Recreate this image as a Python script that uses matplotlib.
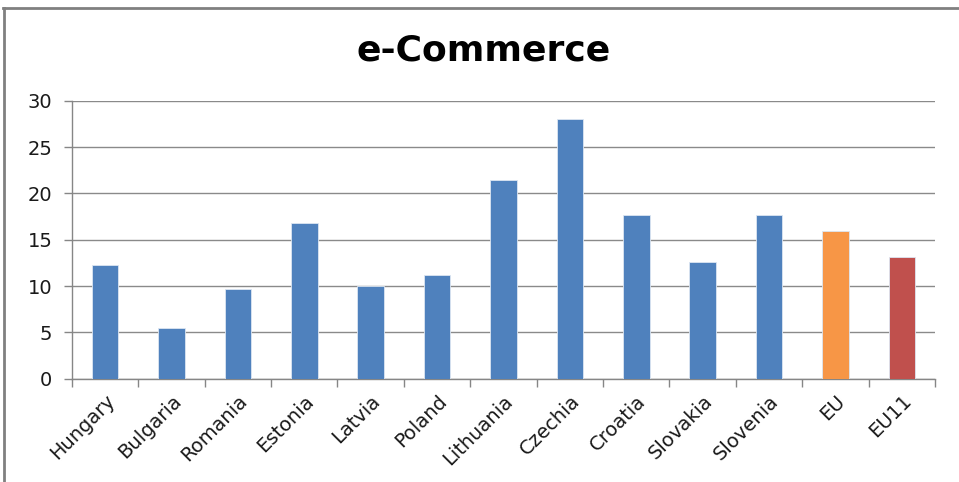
import numpy as np
import matplotlib.pyplot as plt
from matplotlib.lines import Line2D

countries = ['Hungary', 'Bulgaria', 'Romania', 'Estonia', 'Latvia', 'Poland',
             'Lithuania', 'Czechia', 'Croatia', 'Slovakia', 'Slovenia', 'EU', 'EU11']
values = [12.3, 5.5, 9.7, 16.8, 10.0, 11.2, 21.5, 28.0, 17.7, 12.6, 17.7, 16.0, 13.1]
colors = ['#4F81BD'] * 11 + ['#F79646', '#C0504D']
yticks = [0, 5, 10, 15, 20, 25, 30]

fig = plt.figure(figsize=(9.59, 4.82), dpi=100)
ax = fig.add_axes([0.075, 0.214, 0.9, 0.577])

x = np.arange(len(countries))
ax.bar(x, values, width=0.4, color=colors, edgecolor='#dce6f2', linewidth=0.6, zorder=3)

ax.set_xlim(-0.5, len(countries) - 0.5)
ax.set_ylim(0, 30)
ax.set_yticks(yticks)
ax.set_yticklabels([str(t) for t in yticks], fontsize=14, color='#1a1a1a')
ax.yaxis.grid(True, color='#8a8a8a', linewidth=1, zorder=0)

# category labels sit at bar centres, tick marks at category boundaries
ax.set_xticks(np.arange(len(countries) + 1) - 0.5)
ax.set_xticklabels([])
ax.set_xticks(x, minor=True)
ax.set_xticklabels(countries, minor=True, rotation=45, ha='right',
                   rotation_mode='anchor', fontsize=14, color='#1a1a1a')
ax.tick_params(axis='x', which='minor', length=0, pad=9)
ax.tick_params(axis='x', which='major', length=6, color='#868686', width=1)
ax.tick_params(axis='y', length=6, color='#868686', width=1, pad=8)

for side in ['top', 'right']:
    ax.spines[side].set_visible(False)
for side in ['left', 'bottom']:
    ax.spines[side].set_color('#868686')
    ax.spines[side].set_linewidth(1)

fig.text(0.504, 0.895, 'e-Commerce', ha='center', va='center',
         fontsize=26, fontweight='bold', color='black')

# outer chart frame
fig.add_artist(Line2D([0.003, 1.0], [1 - 8 / 482, 1 - 8 / 482],
                      transform=fig.transFigure, color='#808080', linewidth=2))
fig.add_artist(Line2D([4 / 959, 4 / 959], [0, 1 - 8 / 482],
                      transform=fig.transFigure, color='#808080', linewidth=2))

fig.savefig('out.png', dpi=100)
